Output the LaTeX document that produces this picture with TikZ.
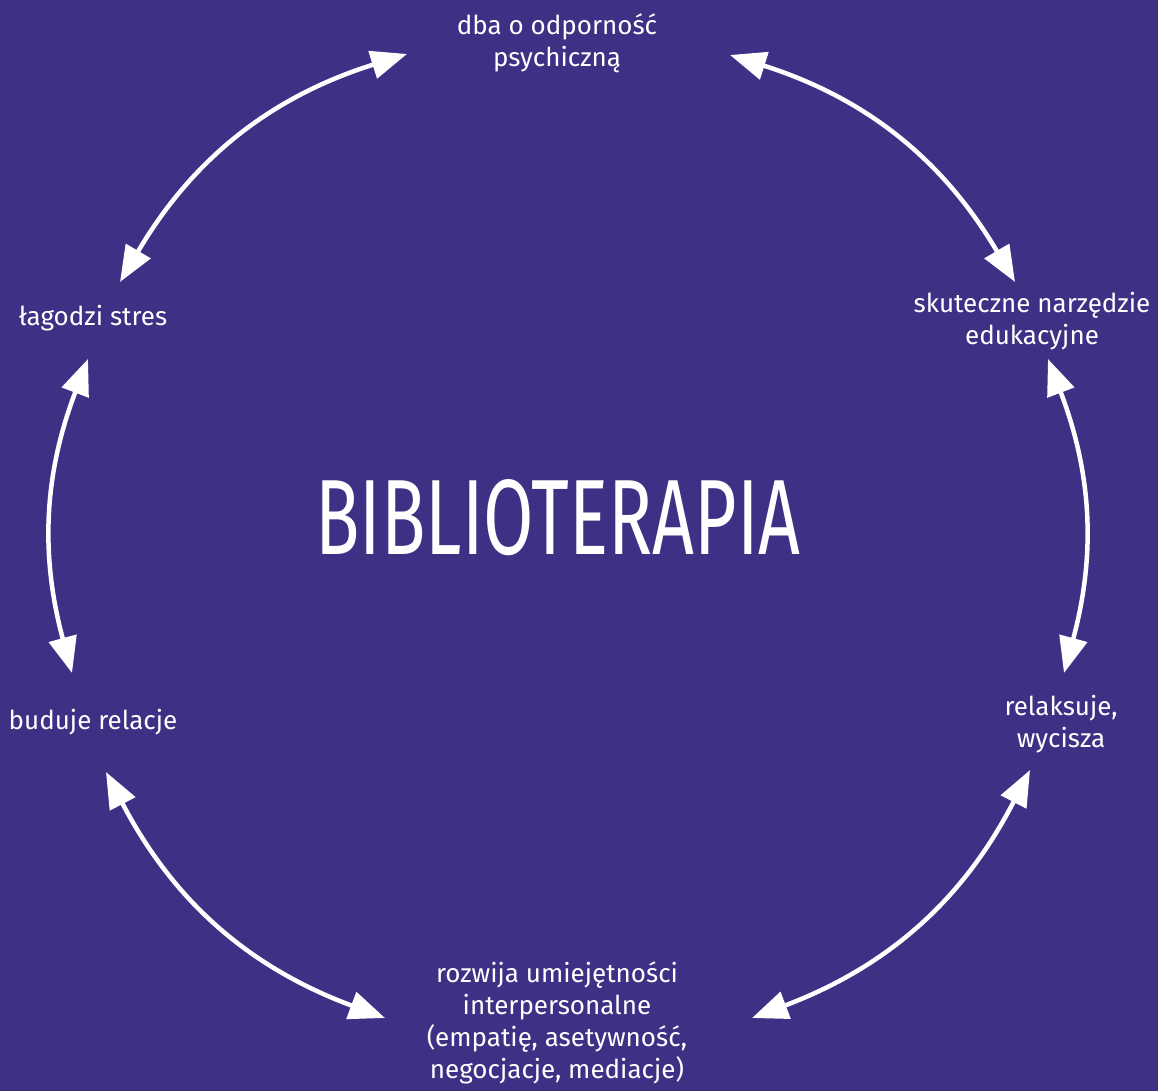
\documentclass[tikz,border=0pt]{standalone}
\usepackage{fontspec}
\setmainfont{Fira Sans}
\usetikzlibrary{arrows.meta}

\definecolor{tlo}{HTML}{3F3086}

\tikzset{
    opis/.style={text=white, align=center, font=\fontsize{14.8}{18.2}\selectfont},
    strzalka/.style={white, line width=0.09cm,
        {Triangle[length=0.72cm,width=0.56cm]}-{Triangle[length=0.72cm,width=0.56cm]}}
}

\begin{document}
\begin{tikzpicture}[x=0.02cm,y=0.02cm]
    \fill [tlo] (0,0) rectangle (1158,1091);
    \useasboundingbox (0,0) rectangle (1158,1091);

    \node [text=white] (tytul) at (558,573) {\resizebox{9.7cm}{1.5cm}{BIBLIOTERAPIA}};

    \node [opis] (odpornosc) at (557,1048) {dba o odporność\\psychiczną};
    \node [opis] (stres) at (93,773) {łagodzi stres};
    \node [opis] (relacje) at (93,369) {buduje relacje};
    \node [opis] (umiejetnosci) at (557,68) {rozwija umiejętności\\interpersonalne\\(empatię, asetywność,\\negocjacje, mediacje)};
    \node [opis] (relaksuje) at (1061,367) {relaksuje,\\wycisza};
    \node [opis] (narzedzie) at (1032,770) {skuteczne narzędzie\\edukacyjne};

    % konce strzalek
    \coordinate (a1) at (407,1037);
    \coordinate (a2) at (120,809);
    \coordinate (b1) at (88,732);
    \coordinate (b2) at (72,418);
    \coordinate (c1) at (106,319);
    \coordinate (c2) at (385,73);
    \coordinate (d1) at (752,73);
    \coordinate (d2) at (1030,321);
    \coordinate (e1) at (1064,418);
    \coordinate (e2) at (1048,732);
    \coordinate (f1) at (1015,809);
    \coordinate (f2) at (730,1036);

    \draw [strzalka] (a1) to[bend right=21] (a2);
    \draw [strzalka] (b1) to[bend right=18] (b2);
    \draw [strzalka] (c1) to[bend right=21] (c2);
    \draw [strzalka] (d1) to[bend right=21] (d2);
    \draw [strzalka] (e1) to[bend right=18] (e2);
    \draw [strzalka] (f1) to[bend right=21] (f2);
\end{tikzpicture}
\end{document}
